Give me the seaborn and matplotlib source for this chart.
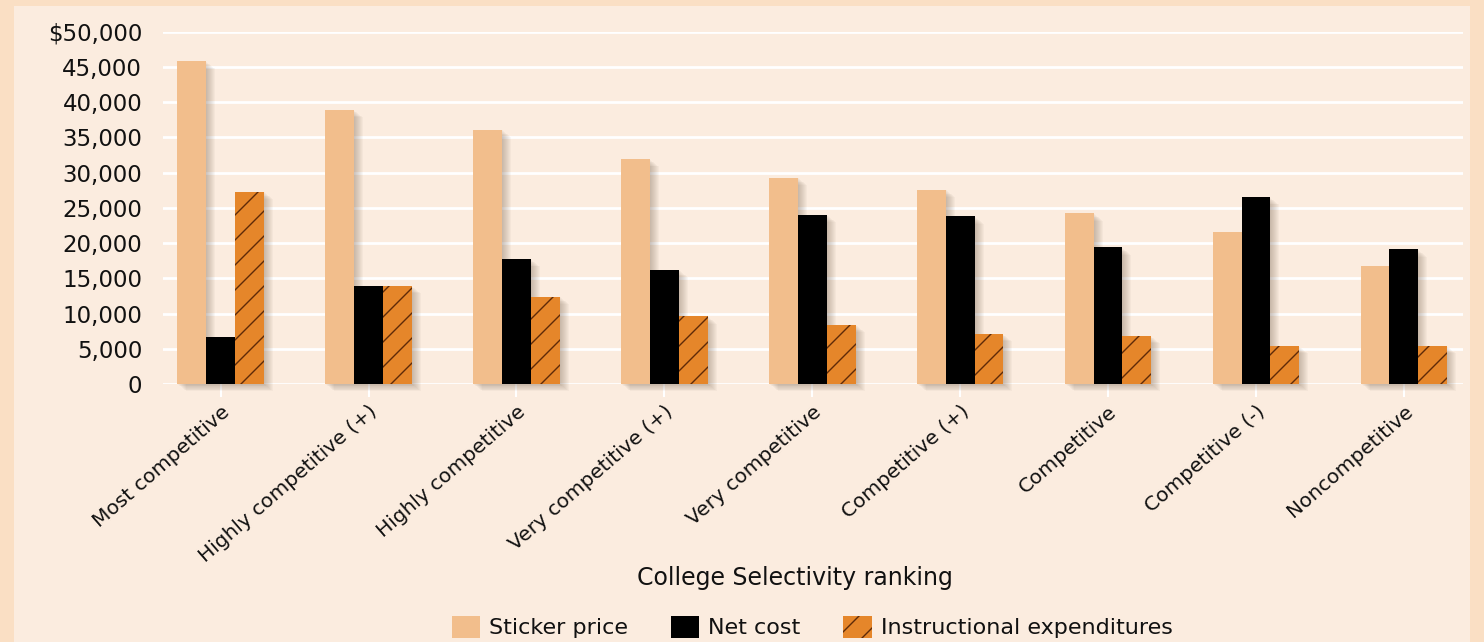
import numpy as np
import pandas as pd
import matplotlib
matplotlib.use("Agg")
import matplotlib.pyplot as plt
import matplotlib.hatch as mhatch
import matplotlib.transforms as mtransforms
from matplotlib.patches import Patch, Rectangle
from matplotlib.ticker import FuncFormatter
import seaborn as sns

# ----------------------------------------------------------------
# Data
# ----------------------------------------------------------------
rankings = [
    "Most competitive", "Highly competitive (+)", "Highly competitive",
    "Very competitive (+)", "Very competitive", "Competitive (+)",
    "Competitive", "Competitive (-)", "Noncompetitive",
]
sticker_price = [45800, 38900, 36100, 31900, 29300, 27600, 24200, 21600, 16700]
net_cost = [6700, 13900, 17700, 16200, 24000, 23800, 19400, 26500, 19100]
instructional = [27300, 13900, 12400, 9600, 8400, 7100, 6800, 5400, 5400]
measures = ["Sticker price", "Net cost", "Instructional expenditures"]

df = pd.DataFrame({
    "ranking": rankings * 3,
    "value": sticker_price + net_cost + instructional,
    "measure": np.repeat(measures, len(rankings)),
})

# colours
OUTER_BG = "#FADFC4"
INNER_BG = "#FBECDF"
colors = {"Sticker price": "#F2BE8C", "Net cost": "#000000",
          "Instructional expenditures": "#E5862A"}
HATCH_COLOR = "#5E2A08"
TEXT_COLOR = "#111111"


# '/' hatch a bit denser than the default 6 lines per inch
class NorthEast8(mhatch.NorthEastHatch):
    def __init__(self, hatch, density):
        super().__init__(hatch, density * 4 / 3)


mhatch._hatch_types = [NorthEast8 if h is mhatch.NorthEastHatch else h
                       for h in mhatch._hatch_types]

plt.rcParams["font.family"] = ["DejaVu Sans"]
plt.rcParams["hatch.linewidth"] = 1.0

fig = plt.figure(figsize=(14.84, 6.42), dpi=100, facecolor=OUTER_BG)
fig.patches.append(Rectangle((14 / 1484, 0), (1470 - 14) / 1484, 1 - 6 / 642,
                             transform=fig.transFigure, facecolor=INNER_BG,
                             edgecolor="none", zorder=-10))

ax = fig.add_axes([163 / 1484, 1 - 384 / 642, 1300 / 1484, (384 - 31.7) / 642])
ax.set_facecolor("none")

sns.barplot(data=df, x="ranking", y="value", hue="measure", palette=colors,
            width=0.585, gap=0, saturation=1, ax=ax, legend=False, zorder=3)

# soft drop shadow built from each bar's own geometry
for i, cont in enumerate(ax.containers):
    for bar in cont:
        bar.set_linewidth(0)
        if i == 2:
            bar.set_hatch("/")
            bar.set_edgecolor(HATCH_COLOR)
        for k in range(1, 10):
            off = mtransforms.ScaledTranslation(k * 1.0 / 100, -k * 0.8 / 100,
                                                fig.dpi_scale_trans)
            ax.add_patch(Rectangle((bar.get_x(), bar.get_y()), bar.get_width(),
                                   bar.get_height(), transform=ax.transData + off,
                                   facecolor="#6f5a4a", alpha=0.045,
                                   edgecolor="none", zorder=2, clip_on=False))

ax.set_ylim(0, 50000)
ax.set_xlim(-0.39, 8.4)
ax.set_yticks(np.arange(0, 50001, 5000))
ax.yaxis.set_major_formatter(FuncFormatter(
    lambda v, p: f"${v:,.0f}" if v == 50000 else f"{v:,.0f}"))
ax.grid(axis="y", color="white", linewidth=2, zorder=1)
ax.set_axisbelow(True)
for s in ax.spines.values():
    s.set_visible(False)

ax.tick_params(axis="y", length=0, pad=15, labelsize=16.5, labelcolor=TEXT_COLOR)
ax.tick_params(axis="x", length=9, width=1.5, color="white", pad=4,
               labelsize=14.5, labelcolor=TEXT_COLOR)
plt.setp(ax.get_xticklabels(), rotation=41, ha="right", rotation_mode="anchor")
ax.set_xlabel("")
ax.set_ylabel("")

fig.text(795 / 1484, 1 - 578 / 642, "College Selectivity ranking",
         ha="center", va="center", fontsize=17, color=TEXT_COLOR)

handles = [Patch(facecolor=colors["Sticker price"], label="Sticker price"),
           Patch(facecolor=colors["Net cost"], label="Net cost"),
           Patch(facecolor=colors["Instructional expenditures"], hatch="/",
                 edgecolor=HATCH_COLOR, linewidth=0,
                 label="Instructional expenditures")]
fig.legend(handles=handles, loc="center", bbox_to_anchor=(812 / 1484, 1 - 627 / 642),
           ncol=3, frameon=False, fontsize=16, handlelength=1.3, handleheight=1.15,
           columnspacing=1.9, handletextpad=0.4, labelcolor=TEXT_COLOR)

fig.savefig("out.png", dpi=100, facecolor=OUTER_BG)
